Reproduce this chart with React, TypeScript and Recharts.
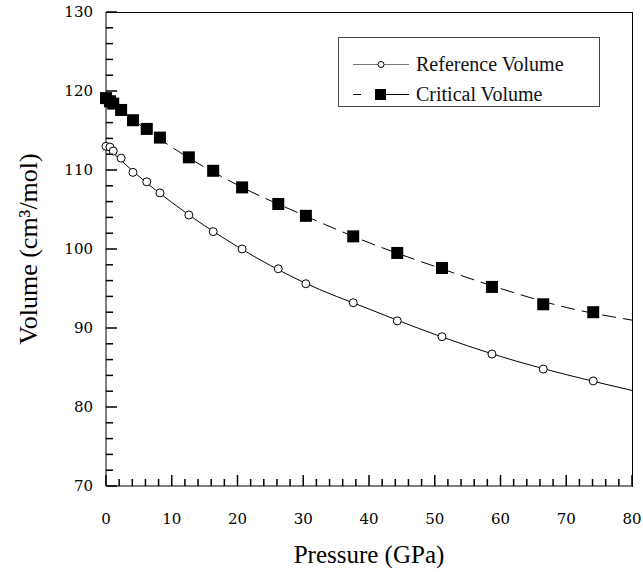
import { ComposedChart, Line, XAxis, YAxis, Legend, Label } from "recharts";

// measured pressures (GPa) and volumes (cm3/mol)
const pressure = [
  0, 0.6, 1.1, 2.3, 4.1, 6.2, 8.2, 12.6, 16.3, 20.7, 26.2, 30.4, 37.6, 44.3,
  51.1, 58.7, 66.5, 74.1,
];
const refVolume = [
  113.0, 112.9, 112.4, 111.5, 109.7, 108.5, 107.1, 104.3, 102.2, 100.0, 97.5,
  95.6, 93.2, 90.9, 88.9, 86.7, 84.8, 83.3,
];
const critVolume = [
  119.1, 118.7, 118.4, 117.6, 116.3, 115.2, 114.1, 111.6, 109.9, 107.8, 105.7,
  104.2, 101.6, 99.5, 97.6, 95.2, 93.0, 92.0,
];

// fitted curves
const fitPressure = [0, 5, 10, 20, 30, 40, 50, 60, 70, 80];
const refFit = [113.0, 109.2, 105.9, 100.3, 95.8, 92.4, 89.2, 86.4, 84.1, 82.1];
const critFit = [119.1, 115.8, 112.9, 108.1, 104.3, 100.8, 97.8, 95.0, 92.6, 91.0];

const xMajor = [0, 10, 20, 30, 40, 50, 60, 70, 80];
const yMajor = [70, 80, 90, 100, 110, 120, 130];

const minor = (lo: number, hi: number, step: number) => {
  const out: number[] = [];
  for (let v = lo; v <= hi + 1e-9; v += step) out.push(v);
  return out;
};
const xTicks = minor(0, 80, 2);
const yTicks = minor(70, 130, 2);

// one table for the chart, keyed by pressure
type Row = { p: number; ref?: number; crit?: number; refFit?: number; critFit?: number };
const rows = new Map<number, Row>();
const row = (p: number) => {
  if (!rows.has(p)) rows.set(p, { p });
  return rows.get(p)!;
};
pressure.forEach((p, i) => {
  row(p).ref = refVolume[i];
  row(p).crit = critVolume[i];
});
fitPressure.forEach((p, i) => {
  row(p).refFit = refFit[i];
  row(p).critFit = critFit[i];
});
const data = [...rows.values()].sort((a, b) => a.p - b.p);

const TICK_FONT = "DejaVu Serif";
const TITLE_FONT = "Liberation Serif";
const X_MARGIN = 27;
const Y_MARGIN = 13;

function XTick(props: any) {
  const { x, y, payload } = props;
  const v = payload.value;
  const major = xMajor.includes(v);
  const axisY = y - X_MARGIN;
  return (
    <g>
      <line x1={x} x2={x} y1={axisY} y2={axisY - (major ? 11 : 7)} stroke="#000" strokeWidth={1.5} />
      {major && (
        <text x={x} y={y + 11} textAnchor="middle" fontSize={15} fontFamily={TICK_FONT} fill="#000">
          {v}
        </text>
      )}
    </g>
  );
}

function YTick(props: any) {
  const { x, y, payload } = props;
  const v = payload.value;
  const major = yMajor.includes(v);
  const axisX = x + Y_MARGIN;
  return (
    <g>
      <line x1={axisX} x2={axisX + (major ? 11 : 7)} y1={y} y2={y} stroke="#000" strokeWidth={1.5} />
      {major && (
        <text x={x} y={y + 5} textAnchor="end" fontSize={15} fontFamily={TICK_FONT} fill="#000">
          {v}
        </text>
      )}
    </g>
  );
}

function Circle(props: any) {
  const { cx, cy, value } = props;
  if (value == null) return null;
  return <circle cx={cx} cy={cy} r={4} fill="#fff" stroke="#000" strokeWidth={1} />;
}

function Square(props: any) {
  const { cx, cy, value } = props;
  if (value == null) return null;
  return <rect x={cx - 6} y={cy - 6} width={12} height={12} fill="#000" />;
}

function LegendBox() {
  return (
    <div
      style={{
        width: 262,
        height: 70,
        boxSizing: "border-box",
        border: "1px solid #444",
        background: "#fff",
        position: "relative",
        fontFamily: TITLE_FONT,
        fontSize: 20,
        color: "#111",
      }}
    >
      <svg width={70} height={70} style={{ position: "absolute", left: 0, top: 0 }}>
        <line x1={14} x2={70} y1={26.5} y2={26.5} stroke="#777" strokeWidth={1} />
        <circle cx={42} cy={26.5} r={3} fill="#fff" stroke="#000" />
        <line x1={14} x2={22} y1={56.5} y2={56.5} stroke="#000" strokeWidth={1} />
        <rect x={36} y={51} width={11} height={11} fill="#000" />
        <line x1={47} x2={70} y1={56.5} y2={56.5} stroke="#000" strokeWidth={1} />
      </svg>
      <div style={{ position: "absolute", left: 77, top: 14, lineHeight: "24px" }}>
        Reference Volume
      </div>
      <div style={{ position: "absolute", left: 77, top: 44, lineHeight: "24px" }}>
        Critical Volume
      </div>
    </div>
  );
}

export default function App() {
  return (
    <div style={{ position: "absolute", left: 0, top: 0, background: "#fff" }}>
      <ComposedChart
        width={643}
        height={572}
        data={data}
        margin={{ top: 12, right: 11, left: 0, bottom: 0 }}
      >
        <XAxis
          dataKey="p"
          type="number"
          domain={[0, 80]}
          ticks={xTicks}
          interval={0}
          tickSize={0}
          tickMargin={X_MARGIN}
          tickLine={false}
          tick={<XTick />}
          axisLine={{ stroke: "#000" }}
          height={86}
        >
          <Label
            value="Pressure (GPa)"
            position="insideBottom"
            offset={9}
            fontFamily={TITLE_FONT}
            fontSize={25}
            fill="#000"
          />
        </XAxis>
        <YAxis
          type="number"
          domain={[70, 130]}
          ticks={yTicks}
          interval={0}
          tickSize={0}
          tickMargin={Y_MARGIN}
          tickLine={false}
          tick={<YTick />}
          axisLine={{ stroke: "#000" }}
          width={106}
        >
          <Label
            value="Volume (cm³/mol)"
            angle={-90}
            position="insideLeft"
            offset={28}
            fontFamily={TITLE_FONT}
            fontSize={26}
            fill="#000"
            style={{ textAnchor: "middle" }}
          />
        </YAxis>
        <Line
          dataKey="refFit"
          type="monotone"
          connectNulls
          stroke="#000"
          strokeWidth={1}
          dot={false}
          activeDot={false}
          isAnimationActive={false}
          legendType="none"
        />
        <Line
          dataKey="critFit"
          type="monotone"
          connectNulls
          stroke="#000"
          strokeWidth={1}
          strokeDasharray="14 7"
          dot={false}
          activeDot={false}
          isAnimationActive={false}
          legendType="none"
        />
        <Line
          dataKey="crit"
          stroke="none"
          dot={<Square />}
          activeDot={false}
          isAnimationActive={false}
          name="Critical Volume"
        />
        <Line
          dataKey="ref"
          stroke="none"
          dot={<Circle />}
          activeDot={false}
          isAnimationActive={false}
          name="Reference Volume"
        />
        <Legend
          layout="vertical"
          align="center"
          verticalAlign="middle"
          content={<LegendBox />}
          wrapperStyle={{ left: 338, top: 37, width: 262, height: 70 }}
        />
      </ComposedChart>
      {/* top and right frame of the plot box */}
      <div
        style={{
          position: "absolute",
          left: 106,
          top: 12,
          width: 526,
          height: 474,
          borderTop: "1px solid #000",
          borderRight: "1px solid #000",
          pointerEvents: "none",
        }}
      />
    </div>
  );
}
